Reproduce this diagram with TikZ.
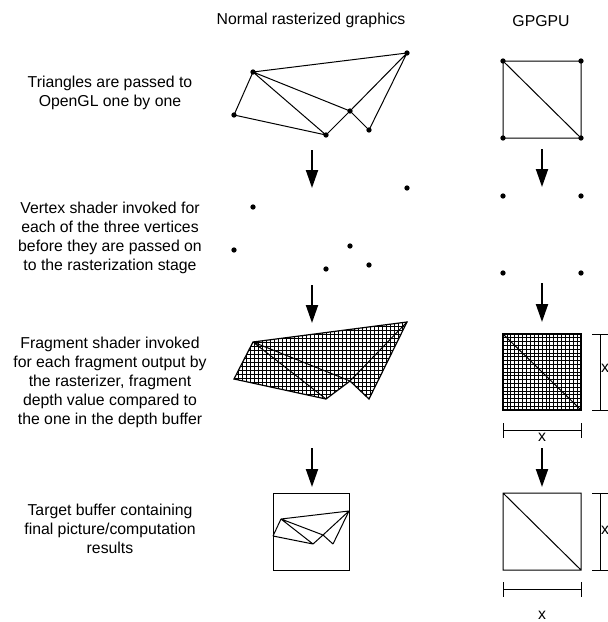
\documentclass[tikz,border=0pt]{standalone}
\usepackage{fontspec}
\setmainfont{Liberation Sans}
\usetikzlibrary{arrows.meta}
\begin{document}
\begin{tikzpicture}[x=1pt,y=-1pt,
  edge/.style={line width=1pt},
  vdot/.style={circle,fill=black,inner sep=0pt,minimum size=5.3pt},
  flow/.style={line width=2pt,-{Triangle[width=12pt,length=18pt]}},
  caption/.style={font=\fontsize{15.8}{19}\selectfont,align=center,inner sep=0pt},
  dimlabel/.style={font=\fontsize{15.8}{19}\selectfont,inner sep=0pt},
  dimline/.style={line width=1pt},
  hatch/.style={line width=0.8pt}]
\useasboundingbox (0,0) rectangle (608,622);

% ---------- column headings ----------
\node[caption] (hnormal) at (311,20) {Normal rasterized graphics};
\node[caption] (hgpgpu) at (541,21) {GPGPU};

% ---------- stage captions ----------
\node[caption] (t1) at (110,93) {Triangles are passed to\\OpenGL one by one};
\node[caption] (t2) at (110,238) {Vertex shader invoked for\\each of the three vertices\\before they are passed on\\to the rasterization stage};
\node[caption] (t3) at (110,382) {Fragment shader invoked\\for each fragment output by\\the rasterizer, fragment\\depth value compared to\\the one in the depth buffer};
\node[caption] (t4) at (110,529) {Target buffer containing\\final picture/computation\\results};

% ---------- stage 1: triangle mesh ----------
\coordinate (a1) at (253,72);
\coordinate (b1) at (407,53);
\coordinate (c1) at (234,115);
\coordinate (d1) at (326,135);
\coordinate (e1) at (350,111);
\coordinate (f1) at (369,130);
\draw[edge] (a1) -- (b1) (a1) -- (c1) (c1) -- (d1) (a1) -- (d1) (a1) -- (e1)
            (e1) -- (d1) (e1) -- (b1) (e1) -- (f1) (f1) -- (b1);
\foreach \p in {a1,b1,c1,d1,e1,f1} \node[vdot] (n\p) at (\p) {};

% stage 1: GPGPU quad
\coordinate (q1tl) at (503,61);
\coordinate (q1tr) at (581,61);
\coordinate (q1br) at (581,138);
\coordinate (q1bl) at (503,138);
\draw[edge] (q1tl) -- (q1tr) -- (q1br) -- (q1bl) -- cycle (q1tl) -- (q1br);
\foreach \p in {q1tl,q1tr,q1br,q1bl} \node[vdot] (n\p) at (\p) {};

% ---------- stage 2: transformed vertices ----------
\foreach \n/\x/\y in {a2/253/207,b2/407/188,c2/234/250,d2/326/269,e2/350/246,f2/369/265,
                      q2tl/503/196,q2tr/581/196,q2bl/503/273,q2br/581/273}
  \node[vdot] (\n) at (\x,\y) {};

% ---------- stage 3: rasterized fragments ----------
\coordinate (a3) at (253,342);
\coordinate (b3) at (407,322);
\coordinate (c3) at (234,379);
\coordinate (d3) at (326,399);
\coordinate (e3) at (350,381);
\coordinate (f3) at (369,399);
\begin{scope}
  \clip (a3) -- (b3) -- (f3) -- (e3) -- (d3) -- (c3) -- cycle;
  \foreach \x in {230,234,...,412} \draw[hatch] (\x,318) -- (\x,404);
  \foreach \y in {318,322,...,404} \draw[hatch] (230,\y) -- (412,\y);
\end{scope}
\draw[edge,line width=1.2pt] (a3) -- (b3) -- (f3) -- (e3) -- (d3) -- (c3) -- cycle;
\draw[edge] (a3) -- (d3) (a3) -- (e3) (e3) -- (b3);

% stage 3: GPGPU quad covered by fragments
\coordinate (q3tl) at (503,334);
\coordinate (q3tr) at (581,334);
\coordinate (q3br) at (581,410);
\coordinate (q3bl) at (503,410);
\begin{scope}
  \clip (q3tl) rectangle (q3br);
  \foreach \i in {0,...,20} {
    \draw[hatch] (503+3.9*\i,334) -- (503+3.9*\i,410);
    \draw[hatch] (503,334+3.8*\i) -- (581,334+3.8*\i);
  }
\end{scope}
\draw[line width=1.6pt] (q3tl) -- (q3tr) -- (q3br) -- (q3bl) -- cycle;
\draw[edge] (q3tl) -- (q3br);

% stage 3: dimensions
\coordinate (v3t) at (600,334);
\coordinate (v3b) at (600,410);
\draw[dimline] (v3t) -- (v3b) (592,334) -- (608,334) (592,410) -- (608,410);
\node[dimlabel] (v3x) at (605,368) {x};
\coordinate (h3l) at (503,430);
\coordinate (h3r) at (581,430);
\draw[dimline] (h3l) -- (h3r) (503,423) -- (503,438) (581,423) -- (581,438);
\node[dimlabel] (h3x) at (542,437) {x};

% ---------- stage 4: target buffers ----------
\coordinate (box4tl) at (273,493);
\coordinate (box4br) at (349,570);
\draw[edge] (box4tl) rectangle (box4br);
\coordinate (a4) at (281,519);
\coordinate (b4) at (349,511);
\coordinate (c4) at (273,536);
\coordinate (d4) at (313,544);
\coordinate (e4) at (323,535);
\coordinate (f4) at (333,544);
\draw[edge] (a4) -- (b4) (a4) -- (c4) (c4) -- (d4) (a4) -- (d4) (a4) -- (e4)
            (e4) -- (d4) (e4) -- (b4) (e4) -- (f4) (f4) -- (b4);

\coordinate (q4tl) at (503,493);
\coordinate (q4br) at (581,570);
\draw[edge] (q4tl) rectangle (q4br) (q4tl) -- (q4br);

% stage 4: dimensions
\coordinate (v4t) at (600,493);
\coordinate (v4b) at (600,570);
\draw[dimline] (v4t) -- (v4b) (592,493) -- (608,493) (592,570) -- (608,570);
\node[dimlabel] (v4x) at (605,530) {x};
\coordinate (h4l) at (503,589);
\coordinate (h4r) at (581,589);
\draw[dimline] (h4l) -- (h4r) (503,582) -- (503,597) (581,582) -- (581,597);
\node[dimlabel] (h4x) at (542,615) {x};

% ---------- pipeline arrows ----------
\coordinate (l1s) at (312,150); \coordinate (l1e) at (312,188);
\coordinate (l2s) at (312,285); \coordinate (l2e) at (312,323);
\coordinate (l3s) at (312,448); \coordinate (l3e) at (312,487);
\coordinate (r1s) at (542,149); \coordinate (r1e) at (542,187);
\coordinate (r2s) at (542,283); \coordinate (r2e) at (542,322);
\coordinate (r3s) at (542,448); \coordinate (r3e) at (542,487);
\draw[flow] (l1s) -- (l1e);
\draw[flow] (l2s) -- (l2e);
\draw[flow] (l3s) -- (l3e);
\draw[flow] (r1s) -- (r1e);
\draw[flow] (r2s) -- (r2e);
\draw[flow] (r3s) -- (r3e);
\end{tikzpicture}
\end{document}
